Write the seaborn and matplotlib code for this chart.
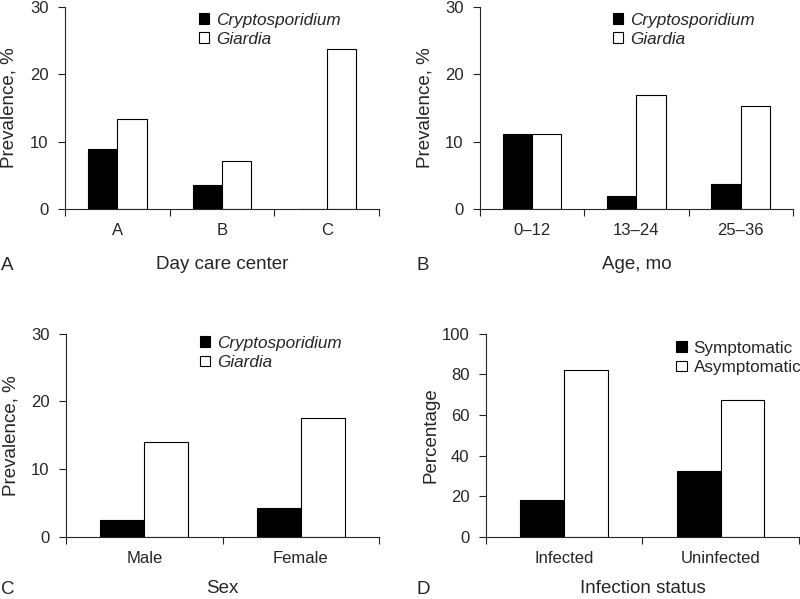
import pandas as pd
import numpy as np
import matplotlib
matplotlib.use('Agg')
import matplotlib.pyplot as plt
from matplotlib.patches import Patch
import seaborn as sns

# data
centers = ['A', 'B', 'C']
crypto_center = [8.9, 3.6, 0.0]
giardia_center = [13.4, 7.2, 23.8]

ages = ['0\u201312', '13\u201324', '25\u201336']
crypto_age = [11.1, 1.9, 3.7]
giardia_age = [11.1, 16.9, 15.3]

sexes = ['Male', 'Female']
crypto_sex = [2.4, 4.3]
giardia_sex = [14.0, 17.6]

status = ['Infected', 'Uninfected']
symptomatic = [18.0, 32.5]
asymptomatic = [82.0, 67.5]

parasites = ['Cryptosporidium', 'Giardia']
symptoms = ['Symptomatic', 'Asymptomatic']

sns.set_style('ticks')
plt.rcParams['font.family'] = ['Liberation Sans', 'DejaVu Sans']
plt.rcParams['axes.linewidth'] = 0.8

TICK_FS = 12
LABEL_FS = 13.5
LEG_FS = 12.3


def long_df(cats, s1, s2, names):
    return pd.DataFrame({
        'cat': cats * 2,
        'val': list(s1) + list(s2),
        'series': [names[0]] * len(cats) + [names[1]] * len(cats),
    })


def draw(ax, cats, s1, s2, names, ylim, yticks, ylabel, xlabel, italic,
         leg_xy, xlab_y):
    df = long_df(cats, s1, s2, names)
    sns.barplot(data=df, x='cat', y='val', hue='series', hue_order=names,
                palette=['black', 'white'], edgecolor='black', linewidth=0.8,
                width=0.56, legend=False, ax=ax)
    n = len(cats)
    ax.set_xlim(-0.5, n - 0.5)
    ax.set_ylim(*ylim)
    ax.set_yticks(yticks)
    ax.tick_params(axis='y', labelsize=TICK_FS, length=5, width=0.8, pad=7,
                   color='#222222')
    ax.tick_params(axis='x', which='major', labelsize=TICK_FS, length=0,
                   pad=10)
    ax.set_xticks(np.arange(-0.5, n, 1.0), minor=True)
    ax.tick_params(axis='x', which='minor', length=5, width=0.8,
                   color='#222222')
    sns.despine(ax=ax)
    ax.set_ylabel(ylabel, fontsize=LABEL_FS)
    ax.yaxis.set_label_coords(-0.15, 0.5)
    ax.set_xlabel(xlabel, fontsize=LABEL_FS, va='top')
    ax.xaxis.set_label_coords(0.5, xlab_y)
    handles = [Patch(facecolor='black', edgecolor='black', linewidth=0.8),
               Patch(facecolor='white', edgecolor='black', linewidth=0.8)]
    ax.legend(handles, names, loc='upper left', bbox_to_anchor=leg_xy,
              frameon=False, handlelength=0.6, handleheight=0.6,
              handletextpad=0.4, labelspacing=0.25,
              borderpad=0, borderaxespad=0,
              prop={'style': 'italic' if italic else 'normal',
                    'size': LEG_FS})


fig = plt.figure(figsize=(8, 5.99), dpi=100)
axA = fig.add_axes([0.08125, 0.6511, 0.3925, 0.3372])
axB = fig.add_axes([0.6, 0.6511, 0.391, 0.3372])
axC = fig.add_axes([0.0825, 0.104, 0.3913, 0.3389])
axD = fig.add_axes([0.6075, 0.104, 0.391, 0.3389])

draw(axA, centers, crypto_center, giardia_center, parasites, (0, 30),
     [0, 10, 20, 30], 'Prevalence, %', 'Day care center', True,
     (0.427, 0.972), -0.235)
draw(axB, ages, crypto_age, giardia_age, parasites, (0, 30),
     [0, 10, 20, 30], 'Prevalence, %', 'Age, mo', True,
     (0.424, 0.972), -0.235)
draw(axC, sexes, crypto_sex, giardia_sex, parasites, (0, 30),
     [0, 10, 20, 30], 'Prevalence, %', 'Sex', True,
     (0.427, 0.99), -0.215)
draw(axD, status, symptomatic, asymptomatic, symptoms, (0, 100),
     [0, 20, 40, 60, 80, 100], 'Percentage', 'Infection status', False,
     (0.609, 0.965), -0.215)

for lab, x, y in [('A', 0.0, 265), ('B', 0.519, 265),
                  ('C', 0.0, 590), ('D', 0.519, 590)]:
    fig.text(x + 0.001, 1 - y / 599, lab, fontsize=LABEL_FS, va='center',
             ha='left')

fig.savefig('out.png', dpi=100)
